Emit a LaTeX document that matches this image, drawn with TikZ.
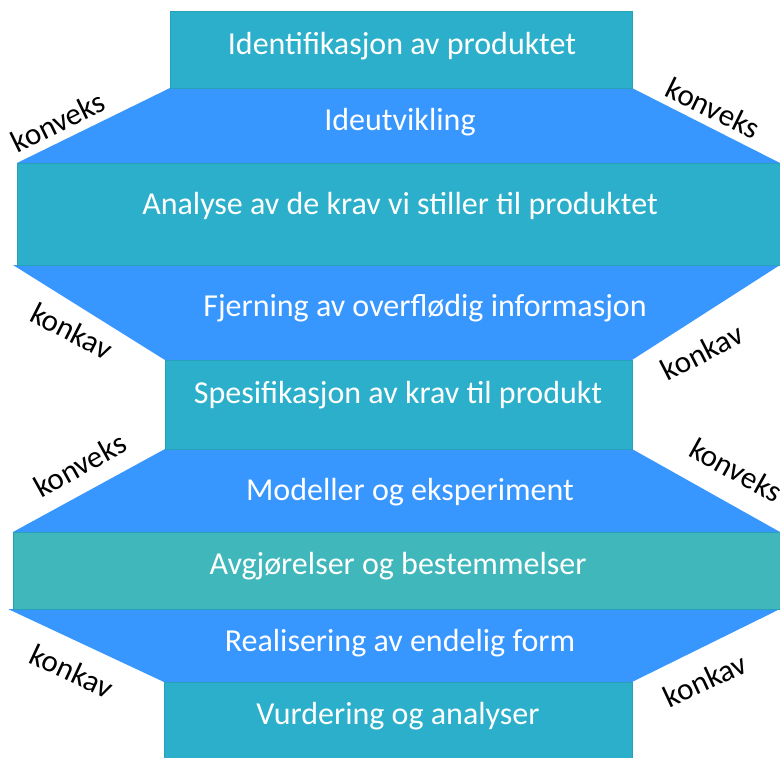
\documentclass[tikz,border=0pt]{standalone}
\usepackage{fontspec}
\setmainfont{Carlito}

\definecolor{boxblue}{RGB}{44,175,202}
\definecolor{boxline}{RGB}{40,160,186}
\definecolor{funnelblue}{RGB}{56,150,255}
\definecolor{midteal}{RGB}{64,183,187}

\begin{document}
\begin{tikzpicture}[x=1pt, y=-1pt]

\tikzset{every node/.style = {font=\fontsize{32}{37}\selectfont, text=white, inner sep=0pt},
  side/.style = {font=\fontsize{31}{35}\selectfont, text=black},
  funnel/.style = {fill=funnelblue},
  stage/.style = {fill=boxblue, draw=boxline, line width=0.6pt}}

\useasboundingbox (0,0) rectangle (780,758);

% funnel parts
\fill[funnel] (170,88) -- (632,88) -- (780,163) -- (17,163) -- cycle;
\fill[funnel] (13,265) -- (780,265) -- (632,360) -- (165,360) -- cycle;
\fill[funnel] (165,449) -- (632,449) -- (780,532) -- (13,532) -- cycle;
\fill[funnel] (8,609) -- (780,609) -- (632,682) -- (164,682) -- cycle;

% stages
\filldraw[stage] (170,11) rectangle (632,88);
\filldraw[stage] (17,163) rectangle (781,265);
\filldraw[stage] (165,360) rectangle (632,449);
\filldraw[stage, fill=midteal] (13,532) rectangle (781,609);
\filldraw[stage] (164,682) rectangle (632,759);

\node (id) at (402,46) {Identifikasjon av produktet};
\node (idea) at (400,122) {Ideutvikling};
\node (ana) at (400,206) {Analyse av de krav vi stiller til produktet};
\node (fjern) at (425,308) {Fjerning av overflødig informasjon};
\node (spes) at (398,395) {Spesifikasjon av krav til produkt};
\node (mod) at (410,492) {Modeller og eksperiment};
\node (avg) at (398,566) {Avgjørelser og bestemmelser};
\node (real) at (400,643) {Realisering av endelig form};
\node (vurd) at (398,716) {Vurdering og analyser};

\node[side, rotate=26] (k1) at (58,122) {konveks};
\node[side, rotate=-26] (k2) at (713,108) {konveks};
\node[side, rotate=-27] (k3) at (72,331) {konkav};
\node[side, rotate=27] (k4) at (702,352) {konkav};
\node[side, rotate=29] (k5) at (80,465) {konveks};
\node[side, rotate=-29] (k6) at (736,470) {konveks};
\node[side, rotate=-25] (k7) at (72,671) {konkav};
\node[side, rotate=25] (k8) at (705,680) {konkav};
\end{tikzpicture}
\end{document}
